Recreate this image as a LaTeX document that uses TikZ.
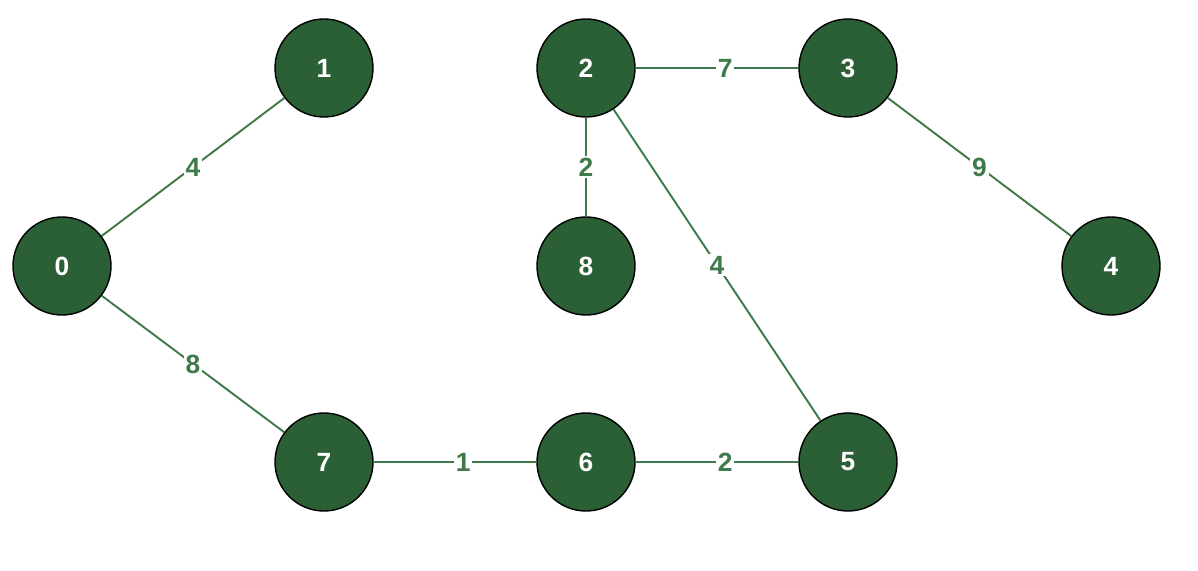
\documentclass[tikz,border=0pt]{standalone}
\usepackage{fontspec}
\setmainfont{Liberation Sans}
\definecolor{vfill}{HTML}{2B5F35}
\definecolor{eline}{HTML}{3E7A4A}
\tikzset{
  vert/.style={circle,draw=black,thick,fill=vfill,minimum size=1.96cm,inner sep=0pt,text=white,font=\fontsize{15}{15}\selectfont\bfseries},
  edge/.style={eline,line width=1.1pt},
  wt/.style={fill=white,inner sep=1pt,font=\fontsize{15}{15}\selectfont\bfseries}
}
\begin{document}
\begin{tikzpicture}
\useasboundingbox[fill=white] (0,0) rectangle (23.96,11.4);

\node[vert] (v0) at (1.24,6.08)  {0}; %0
\node[vert] (v1) at (6.48,10.04) {1}; %1
\node[vert] (v2) at (11.72,10.04){2}; %2
\node[vert] (v3) at (16.96,10.04){3}; %3
\node[vert] (v4) at (22.22,6.08) {4}; %4
\node[vert] (v5) at (16.96,2.16) {5}; %5
\node[vert] (v6) at (11.72,2.16) {6}; %6
\node[vert] (v7) at (6.48,2.16)  {7}; %7
\node[vert] (v8) at (11.72,6.08) {8}; %8

\draw[edge](v0)--node[wt]{4}(v1);
\draw[edge](v0)--node[wt]{8}(v7);
\draw[edge](v7)--node[wt,pos=0.55]{1}(v6);
\draw[edge](v6)--node[wt,pos=0.55]{2}(v5);
\draw[edge](v2)--node[wt]{2}(v8);
\draw[edge](v2)--node[wt]{4}(v5);
\draw[edge](v2)--node[wt,pos=0.55]{7}(v3);
\draw[edge](v3)--node[wt]{9}(v4);
\end{tikzpicture}
\end{document}
